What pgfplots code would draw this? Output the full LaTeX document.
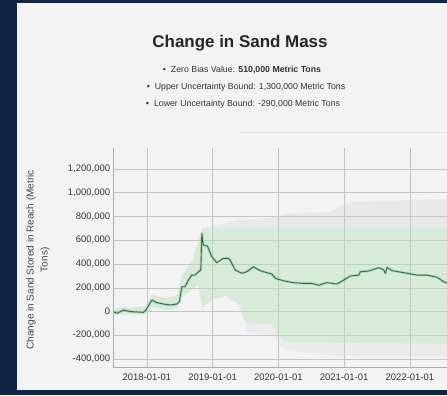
\documentclass[border=0pt]{standalone}
\usepackage{pgfplots}
\usepackage{pgfplotstable}
\pgfplotsset{compat=1.18}
\usepackage{fontspec}
\setmainfont{Liberation Sans}

\definecolor{navy}{HTML}{0F2442}
\definecolor{panel}{HTML}{F3F3F3}
\definecolor{sepline}{HTML}{E2E2E2}
\definecolor{gridc}{HTML}{C4C4C4}
\definecolor{axisc}{HTML}{ADADAD}
\definecolor{bandgreen}{HTML}{B3E2B6}
\definecolor{bandgray}{HTML}{CFCFCF}
\definecolor{halo}{HTML}{7ECF93}
\definecolor{linec}{HTML}{3F6A50}
\definecolor{txt}{HTML}{333333}
\definecolor{labc}{HTML}{444444}

% cumulative change in stored sand (metric tons), decimal years
\pgfplotstableread{
year value
2017.483 0
2017.544 -15000
2017.644 12000
2017.746 0
2017.948 -7000
2017.989 15000
2018.076 97000
2018.152 75000
2018.252 63000
2018.354 55000
2018.456 63000
2018.495 83000
2018.532 209000
2018.582 209000
2018.632 265000
2018.684 307000
2018.734 307000
2018.784 335000
2018.821 350000
2018.836 658000
2018.860 560000
2018.921 552000
2018.988 462000
2019.064 411000
2019.164 448000
2019.240 448000
2019.266 434000
2019.342 350000
2019.444 322000
2019.520 335000
2019.620 377000
2019.722 344000
2019.824 327000
2019.900 316000
2019.950 280000
2020.076 259000
2020.228 243000
2020.380 237000
2020.508 237000
2020.608 221000
2020.736 243000
2020.892 232000
2020.994 265000
2021.094 299000
2021.222 307000
2021.246 335000
2021.374 341000
2021.526 369000
2021.602 350000
2021.626 322000
2021.652 372000
2021.728 344000
2021.906 327000
2022.108 307000
2022.260 307000
2022.412 288000
2022.514 251000
2022.600 230000
}\massdata

% uncertainty envelope: upper edge forward, lower edge back
\pgfplotstableread{
year value
2017.48 30000
2017.75 35000
2017.98 45000
2018.07 140000
2018.30 115000
2018.46 140000
2018.53 300000
2018.70 440000
2018.78 580000
2018.84 700000
2022.60 700000
2022.60 -270000
2020.10 -260000
2019.98 -180000
2019.90 -110000
2019.50 -90000
2019.40 60000
2019.20 130000
2019.00 100000
2018.84 30000
2018.78 220000
2018.70 190000
2018.53 120000
2018.46 25000
2018.30 15000
2018.07 35000
2017.98 -22000
2017.75 -25000
2017.48 -25000
}\greenband

% outer range above the envelope
\pgfplotstableread{
year value
2018.84 700000
2019.00 720000
2019.40 770000
2019.90 790000
2020.10 820000
2020.80 840000
2021.05 920000
2022.60 950000
2022.60 700000
2018.84 700000
}\grayup

% outer range below the envelope
\pgfplotstableread{
year value
2019.50 -90000
2019.90 -110000
2019.98 -180000
2020.10 -260000
2022.60 -270000
2022.60 -380000
2020.90 -370000
2020.10 -330000
2019.90 -200000
2019.50 -170000
}\graylow

\begin{document}
\begin{tikzpicture}[x=1bp,y=1bp]
\fill[navy] (0,0) rectangle (447,395);
\fill[panel] (17,5) rectangle (447,392);
\draw[sepline, line width=1bp] (240,262.3) -- (447,262.3);

\node[font=\fontsize{17}{20}\selectfont\bfseries, text=black!85] at (240,352) {Change in Sand Mass};
\node[font=\fontsize{8.8}{10}\selectfont, text=txt] at (242,325)
  {\textbullet\hspace{5bp}Zero Bias Value: \textbf{510,000 Metric Tons}};
\node[font=\fontsize{8.8}{10}\selectfont, text=txt] at (246,308)
  {\textbullet\hspace{5bp}Upper Uncertainty Bound: 1,300,000 Metric Tons};
\node[font=\fontsize{8.8}{10}\selectfont, text=txt] at (243,291)
  {\textbullet\hspace{5bp}Lower Uncertainty Bound: -290,000 Metric Tons};

\begin{axis}[
  at={(113.3bp,28bp)}, anchor=south west,
  scale only axis, width=333.7bp, height=218.7bp,
  xmin=2017.49, xmax=2022.564,
  ymin=-467000, ymax=1374000,
  axis x line*=bottom, axis y line*=left,
  axis line style={draw=axisc, line width=0.6bp},
  xtick={2018,2019,2020,2021,2022},
  xticklabels={2018-01-01,2019-01-01,2020-01-01,2021-01-01,2022-01-01},
  ytick={-400000,-200000,0,200000,400000,600000,800000,1000000,1200000},
  yticklabels={{-400,000},{-200,000},{0},{200,000},{400,000},{600,000},{800,000},{1,000,000},{1,200,000}},
  scaled y ticks=false,
  grid=major,
  major grid style={draw=gridc, line width=0.5bp},
  major tick length=0pt,
  tick label style={font=\fontsize{9.5}{11}\selectfont, text=txt},
  yticklabel style={anchor=east, inner sep=0pt, xshift=-3bp},
  xticklabel style={anchor=north, inner sep=0pt, yshift=-7bp},
  ylabel={Change in Sand Stored in Reach (Metric\\Tons)},
  ylabel style={at={(axis description cs:-0.2257,0.49)}, anchor=center,
    align=center, font=\fontsize{10}{14}\selectfont, text=labc},
]
\addplot[draw=none, fill=bandgray, fill opacity=0.28] table[x=year, y=value] {\grayup} -- cycle;
\addplot[draw=none, fill=bandgray, fill opacity=0.22] table[x=year, y=value] {\graylow} -- cycle;
\addplot[draw=none, fill=bandgreen, fill opacity=0.42] table[x=year, y=value] {\greenband} -- cycle;

\addplot[halo, line width=2.4bp, opacity=0.6, line join=round] table[x=year, y=value] {\massdata};
\addplot[linec, line width=0.9bp, line join=round] table[x=year, y=value] {\massdata};
\end{axis}

\pgfresetboundingbox
\path[use as bounding box] (0,0) rectangle (447,395);
\end{tikzpicture}
\end{document}
